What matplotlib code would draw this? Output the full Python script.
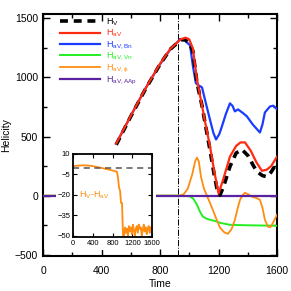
import matplotlib
matplotlib.use('Agg')
import matplotlib.pyplot as plt
from matplotlib.patches import Rectangle
from matplotlib.ticker import MultipleLocator

# main curves (time, helicity)
t_hv = [500, 600, 700, 800, 870, 940, 970, 1000, 1025, 1052, 1087, 1110, 1141, 1170, 1189,
        1210, 1235, 1278, 1320, 1360, 1400, 1440, 1463, 1500, 1530, 1560, 1600]
hv = [430, 670, 900, 1110, 1237, 1315, 1320, 1290, 1220, 958, 760, 600, 390, 180, 60,
      5, 80, 246, 360, 390, 340, 250, 203, 170, 160, 200, 280]

t_hav = [500, 600, 700, 800, 870, 940, 975, 1000, 1025, 1052, 1087, 1110, 1141, 1170, 1200,
         1230, 1278, 1320, 1350, 1381, 1420, 1460, 1497, 1530, 1560, 1600]
hav = [440, 675, 905, 1115, 1240, 1320, 1335, 1320, 1240, 985, 760, 610, 420, 210, 20,
       130, 330, 420, 450, 450, 380, 280, 210, 220, 250, 330]

t_bn = [500, 600, 700, 800, 870, 936, 970, 1005, 1025, 1045, 1060, 1087, 1107, 1141, 1165,
        1183, 1205, 1223, 1250, 1278, 1295, 1312, 1333, 1365, 1394, 1435, 1483, 1500, 1517,
        1552, 1575, 1600]
bn = [440, 675, 905, 1110, 1235, 1320, 1310, 1270, 1093, 950, 935, 915, 813, 644, 530,
      475, 520, 585, 690, 780, 760, 712, 729, 700, 670, 600, 534, 600, 703, 754, 760, 730]

t_vn = [0, 950, 1005, 1030, 1052, 1075, 1094, 1120, 1141, 1180, 1210, 1278, 1400, 1500, 1600]
vn = [0, 0, -5, -30, -76, -140, -178, -195, -203, -215, -229, -246, -250, -252, -254]

t_phi = [0, 930, 960, 990, 1020, 1040, 1052, 1065, 1080, 1100, 1141, 1180, 1210, 1240,
         1264, 1290, 1312, 1330, 1347, 1365, 1381, 1405, 1428, 1460, 1483, 1500, 1517,
         1538, 1555, 1572, 1600]
phi = [0, 0, 10, 60, 180, 290, 322, 290, 160, 60, -59, -180, -271, -310, -322, -280, -203,
       -110, -34, 5, 25, 10, -8, -20, -34, -100, -203, -263, -265, -229, -161]

t_aap = [0, 1600]
aap = [0, 0]

# inset: Hv - Hav
t_diff = [0, 100, 200, 300, 400, 500, 600, 700, 800, 890, 910, 930, 950, 970, 990, 1000,
          1010, 1030, 1050, 1070, 1090, 1110, 1130, 1150, 1170, 1190, 1210, 1230, 1250,
          1270, 1290, 1310, 1330, 1350, 1370, 1390, 1410, 1430, 1450, 1470, 1490, 1510,
          1530, 1550, 1570, 1590, 1600]
diff = [1.0, 1.4, 1.6, 1.5, 1.0, 0.3, -0.5, -1.3, -2.2, -3.2, -8, -15, -17, -26, -26, -38,
        -50, -51, -44, -48, -45, -50, -43, -47, -44, -49, -42, -46, -50, -45, -43, -48,
        -42, -45, -44, -50, -46, -42, -47, -44, -49, -45, -43, -48, -44, -46, -43]

c_red = '#ff2a10'
c_blue = '#1a3cff'
c_green = '#22ee22'
c_orange = '#ff8c10'
c_purple = '#5a22a0'

plt.rcParams['font.family'] = ['Liberation Sans', 'DejaVu Sans']
plt.rcParams['mathtext.fontset'] = 'custom'
plt.rcParams['mathtext.rm'] = 'Liberation Sans'

fig = plt.figure(figsize=(2.91, 2.91), dpi=100)
ax = fig.add_axes([0.148, 0.12, 0.804, 0.832])

ax.plot(t_hv, hv, color='black', lw=2.6, dashes=(2.2, 1.6), label=r'H$_{\rm V}$', zorder=5)
ax.plot(t_hav, hav, color=c_red, lw=1.6, label=r'H$_{\rm aV}$', zorder=6)
ax.plot(t_bn, bn, color=c_blue, lw=1.6, label=r'H$_{\rm aV,Bn}$', zorder=4)
ax.plot(t_vn, vn, color=c_green, lw=1.4, label=r'H$_{\rm aV,Vn}$', zorder=3)
ax.plot(t_phi, phi, color=c_orange, lw=1.3, label=r'H$_{\rm aV,\phi}$', zorder=3)
ax.plot(t_aap, aap, color=c_purple, lw=1.6, label=r'H$_{\rm aV,AAp}$', zorder=4)
ax.axvline(920, color='black', lw=0.7, ls='-.', zorder=2)

ax.set_xlim(0, 1600)
ax.set_ylim(-510, 1535)
ax.set_xticks([0, 400, 800, 1200, 1600])
ax.set_yticks([-500, 0, 500, 1000, 1500])
ax.xaxis.set_minor_locator(MultipleLocator(200))
ax.yaxis.set_minor_locator(MultipleLocator(250))
ax.tick_params(which='both', direction='in', top=True, right=True, labelsize=7.5, width=1)
ax.tick_params(which='major', length=5)
ax.tick_params(which='minor', length=3)
ax.tick_params(axis='x', pad=7)
for s in ax.spines.values():
    s.set_linewidth(1.5)
ax.set_xlabel('Time', fontsize=7.5, labelpad=2)
ax.set_ylabel('Helicity', fontsize=7.5, labelpad=3)

leg = ax.legend(loc='upper left', fontsize=6.5, frameon=False, handlelength=4.5,
                handletextpad=0.6, labelspacing=0.0, borderaxespad=0.0,
                bbox_to_anchor=(0.055, 1.005))
for txt, line in zip(leg.get_texts(), leg.get_lines()):
    txt.set_color(line.get_color())

# white box behind the inset and its labels
fig.patches.append(Rectangle((56 / 291, 1 - 250 / 291), 100 / 291, 104 / 291,
                             transform=fig.transFigure, facecolor='white',
                             edgecolor='none', zorder=1))

# inset
ins = fig.add_axes([0.251, 0.186, 0.272, 0.285])
ins.set_zorder(2)
ins.plot(t_diff, diff, color=c_orange, lw=1.3)
ins.axhline(0, color='#555555', lw=1.1, dashes=(4, 3))
ins.set_xlim(0, 1600)
ins.set_ylim(-51, 10)
ins.set_xticks([0, 400, 800, 1200, 1600])
ins.set_yticks([10, -5, -20, -35, -50])
ins.tick_params(which='both', direction='in', top=True, right=True, labelsize=5.5,
                length=3, width=0.8, pad=2)
for s in ins.spines.values():
    s.set_linewidth(1.3)
ins.text(0.07, 0.47, r'H$_{\rm V}$-H$_{\rm aV}$', color=c_orange, fontsize=6.5,
         transform=ins.transAxes)

fig.savefig('out.png', dpi=100)
